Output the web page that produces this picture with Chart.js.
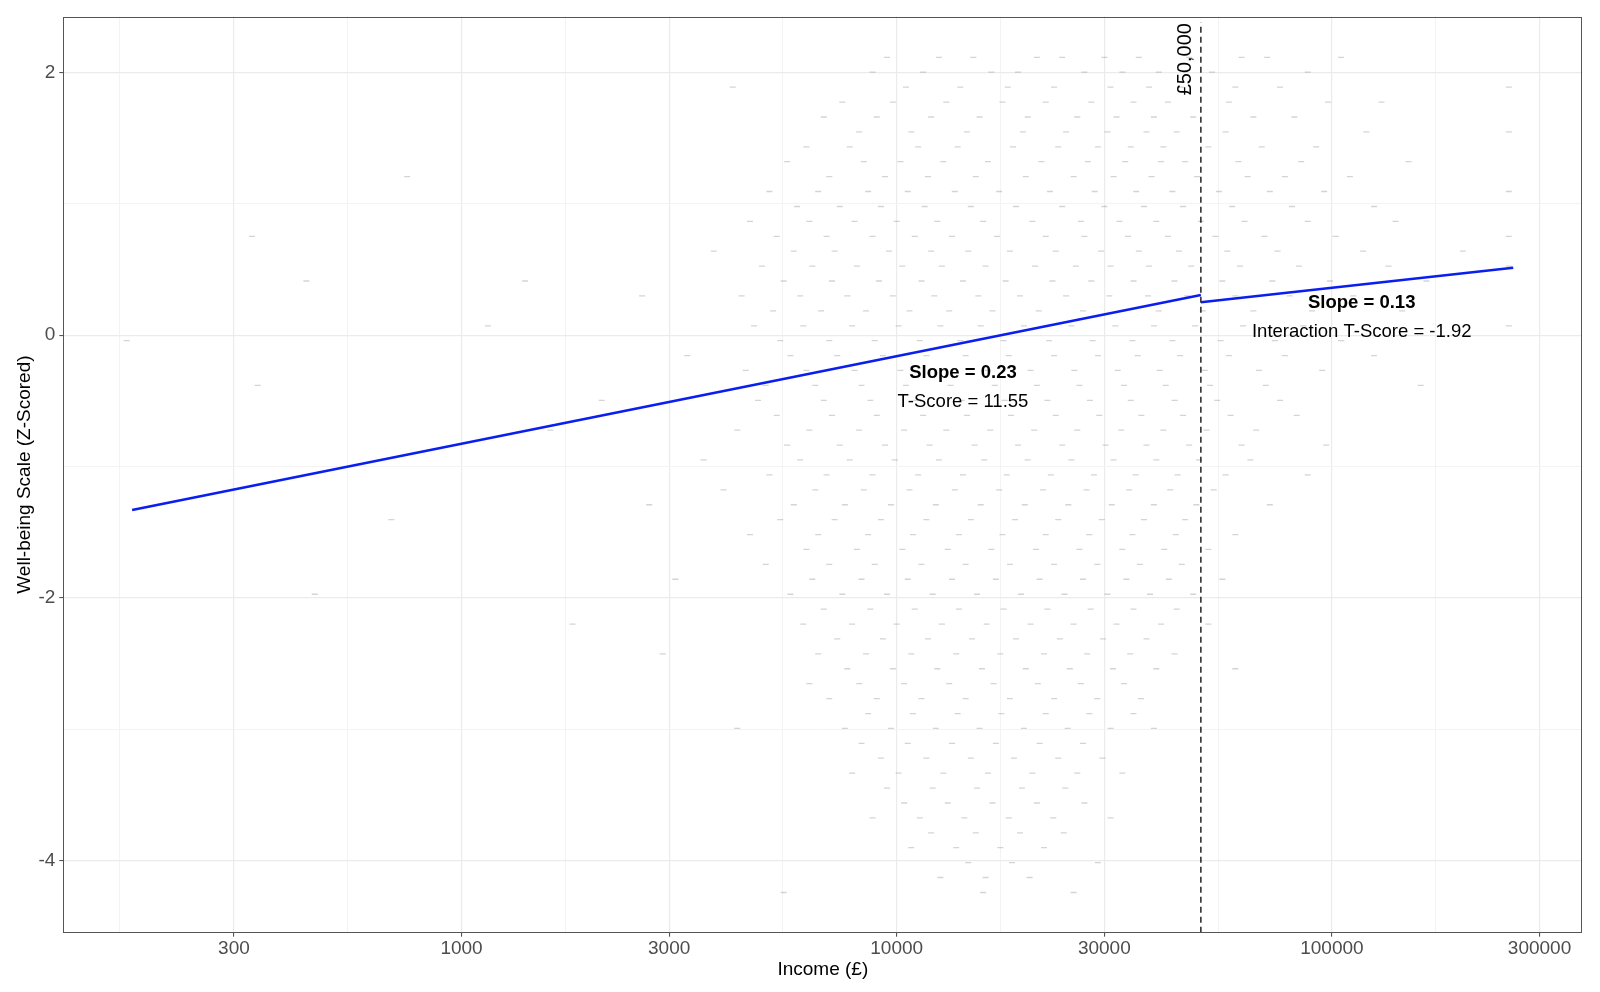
<!DOCTYPE html>
<html><head><meta charset="utf-8">
<script src="https://cdn.jsdelivr.net/npm/chart.js@4/dist/chart.umd.min.js"></script>
<style>html,body{margin:0;padding:0;background:#fff;}#wrap{width:1600px;height:992px;}</style>
</head><body><div id="wrap"><canvas id="c" width="1600" height="992"></canvas></div>
<script>
// ---------- data ----------
const xMajorTicks = [300, 1000, 3000, 10000, 30000, 100000, 300000];
const xMinorTicks = [164, 548, 1732, 5477, 17321, 54772, 173205];
const yMajorTicks = [-4, -2, 0, 2];
const yMinorTicks = [-3, -1, 1];
const xRange = [121.6, 376200];
const yRange = [-4.548, 2.425];
const threshold = 50000;
const thresholdTop = 2.38;
const lowIncomeFit = [[175, -1.331], [50000, 0.305]];
const highIncomeFit = [[50000, 0.250], [261000, 0.513]];
const xTitle = 'Income (£)';
const yTitle = 'Well-being Scale (Z-Scored)';
const thresholdLabel = '£50,000';
const annotations = [
  {x: 14200, y: -0.288, text: 'Slope = 0.23', bold: true},
  {x: 14200, y: -0.507, text: 'T-Score = 11.55', bold: false},
  {x: 117100, y: 0.242, text: 'Slope = 0.13', bold: true},
  {x: 117100, y: 0.026, text: 'Interaction T-Score = -1.92', bold: false}
];
// well-being levels (z) and the incomes of the faint observations read on each level
const cloudLevels = [2.114,2.001,1.887,1.774,1.660,1.547,1.433,1.320,1.206,1.093,0.979,0.866,0.752,0.639,0.525,0.412,0.298,0.185,0.071,-0.042,-0.156,-0.269,-0.383,-0.496,-0.610,-0.723,-0.837,-0.950,-1.064,-1.177,-1.291,-1.404,-1.518,-1.631,-1.745,-1.858,-1.972,-2.085,-2.199,-2.312,-2.426,-2.539,-2.653,-2.766,-2.880,-2.993,-3.107,-3.220,-3.334,-3.447,-3.561,-3.674,-3.788,-3.901,-4.015,-4.128,-4.242];
const cloudIncomes = [
  [9500,12500,15000,21000,24000,30000,36000,47000,62000,71000,105000],
  [8800,11500,16500,19000,27000,33000,40000,53000,88000],
  [4200,10500,14000,18000,23000,31000,38000,45000,60000,76000,255000],
  [7500,9800,13000,17500,22000,28000,35000,42000,58000,98000,130000],
  [6800,9000,12000,15500,20000,26000,32000,39000,48000,66000,82000],
  [8200,10800,14500,19500,24500,30500,37500,44000,57000,120000,255000],
  [6200,7800,11200,13800,18500,23500,29000,34500,41000,52000,69000,92000],
  [5600,8400,10200,12800,16200,21500,27500,33500,40500,46000,61000,85000,150000],
  [750,7000,9400,11800,15200,19800,25500,31500,38500,49000,64000,78000,110000],
  [5100,6600,8600,10600,13600,17200,22500,28500,35500,43000,55000,72000,96000,255000],
  [5900,7400,9200,11600,14800,18800,24000,30000,37000,45500,59000,81000,125000],
  [4600,6300,8000,10000,12400,15800,20500,26500,32500,39500,50000,63000,88000,140000],
  [330,5300,6900,8800,11000,13400,17000,22000,27000,34000,42000,54000,70000,102000,255000],
  [3800,5800,7200,9600,12000,14600,18200,23200,29500,36000,44500,57500,75000,118000,200000],
  [4900,6400,8100,10300,12700,16000,20800,25800,31000,38000,47500,61500,84000,135000,255000],
  [440,1400,5500,7100,9100,11400,14200,17800,22800,28000,35000,43500,56000,73000,99000,165000],
  [2600,4400,6000,7700,9800,12200,15400,19200,24500,30800,37800,46500,60000,80000,112000],
  [5200,6700,8500,10700,13200,16600,21200,26800,33000,40000,50500,66000,90000,145000],
  [1150,4700,6100,7900,10100,12600,15600,19600,25200,31800,39000,48500,62500,86000,255000],
  [170,5400,7000,8900,11300,14000,17600,22400,28200,34800,43000,55500,74000,105000],
  [3300,5700,7300,9300,11700,14400,18100,23000,29000,35800,44800,58000,78000,125000],
  [4500,6200,8000,10200,12900,16200,20300,25600,32200,40200,51000,68000,95000],
  [340,5000,6500,8300,10500,13300,16800,21000,26300,33300,41500,52500,70500,160000],
  [2100,4800,6800,8700,11100,14100,17700,22200,27800,34500,43500,54500,76000],
  [5300,7100,9000,11500,14500,18300,23200,29200,36500,45500,58500,83000],
  [1600,4300,6300,8200,10400,13000,16400,20700,26000,32800,41000,51500,67000],
  [5600,7400,9400,11900,15100,19000,24000,30200,37500,47000,62000,97000],
  [3600,6000,7800,9900,12500,15900,20000,25200,31500,39500,49500,65000],
  [5100,6900,8800,11200,14200,17900,22600,28400,35400,44200,57000,88000],
  [4000,6500,8400,10700,13600,17200,21700,27300,34200,42500,53500],
  [2700,5800,7600,9700,12300,15600,19700,24800,31200,39000,48800,72000],
  [690,5400,7200,9200,11700,14800,18700,23500,29600,37000,46000],
  [4600,6600,8600,10900,13900,17500,22000,27700,34800,43800,60000],
  [6200,8100,10300,13100,16500,20900,26300,33000,41200,52000],
  [5000,7000,8900,11400,14400,18200,23000,28900,36200,45200],
  [3100,6400,8300,10600,13400,16900,21300,26800,33700,42200,56000],
  [460,5700,7500,9500,12100,15300,19300,24300,30500,38200,48000],
  [6800,8700,11000,13900,17600,22200,27900,35000,44000],
  [1800,6100,7900,10000,12700,16100,20300,25500,32000,40500,52000],
  [7300,9300,11800,14900,18800,23700,29800,37500],
  [2900,6600,8500,10800,13700,17300,21800,27400,34400,43500],
  [7700,9800,12400,15700,19800,25000,31400,39500,60000],
  [6300,8200,10400,13200,16700,21100,26500,33300],
  [7000,9000,11400,14400,18200,23000,28900,36400],
  [8600,10900,13800,17400,22000,27700,35000],
  [4300,7600,9700,12300,15500,19600,24700,31000,39000],
  [8300,10600,13400,16900,21300,26800],
  [9200,11700,14800,18600,23500,29700],
  [7900,10100,12800,16200,20500,26000,33000],
  [9500,12100,15300,19400,24400],
  [10400,13100,16600,21000,27000],
  [8800,11300,14300,18100,22900,31000],
  [12000,15200,19200,24200],
  [10800,13700,17300,21800],
  [14600,18400,29000],
  [12600,16000,20200],
  [5500,15800,25500]
];

// ---------- chart ----------
const FONT = '"Liberation Sans", Arial, Helvetica, sans-serif';
const cloudData = [];
cloudLevels.forEach((z, i) => cloudIncomes[i].forEach(inc => cloudData.push({x: inc, y: z})));
const toXY = arr => arr.map(p => ({x: p[0], y: p[1]}));

const isMajorX = v => xMajorTicks.includes(v);
const isMajorY = v => yMajorTicks.includes(v);

const overlay = {
  id: 'overlay',
  afterDatasetsDraw(chart) {
    const {ctx, chartArea: a, scales: {x, y}} = chart;
    ctx.save();
    ctx.strokeStyle = '#555555';
    ctx.lineWidth = 1;
    ctx.strokeRect(Math.round(a.left) + 0.5, Math.round(a.top) + 0.5, Math.round(a.right - a.left) - 1, Math.round(a.bottom - a.top) - 1);
    ctx.fillStyle = '#000';
    ctx.textAlign = 'center';
    ctx.textBaseline = 'middle';
    annotations.forEach(an => {
      ctx.font = (an.bold ? 'bold ' : '') + '18.5px ' + FONT;
      ctx.fillText(an.text, x.getPixelForValue(an.x), y.getPixelForValue(an.y));
    });
    ctx.save();
    ctx.translate(x.getPixelForValue(threshold) - 10, y.getPixelForValue(2.10));
    ctx.rotate(-Math.PI / 2);
    ctx.font = '20px ' + FONT;
    ctx.textAlign = 'center';
    ctx.textBaseline = 'alphabetic';
    ctx.fillText(thresholdLabel, 0, 0);
    ctx.restore();
    ctx.font = '19px ' + FONT;
    ctx.textBaseline = 'middle';
    ctx.fillText(xTitle, (a.left + a.right) / 2, 970);
    ctx.save();
    ctx.translate(24.5, (a.top + a.bottom) / 2);
    ctx.rotate(-Math.PI / 2);
    ctx.fillText(yTitle, 0, 0);
    ctx.restore();
    ctx.restore();
  }
};

new Chart(document.getElementById('c'), {
  type: 'scatter',
  data: {
    datasets: [
      {type: 'line', data: toXY(lowIncomeFit), borderColor: '#0a1ef0', borderWidth: 2.6, pointRadius: 0, fill: false, order: 1},
      {type: 'line', data: toXY(highIncomeFit), borderColor: '#0a1ef0', borderWidth: 2.6, pointRadius: 0, fill: false, order: 1},
      {type: 'line', data: [{x: threshold, y: yRange[0]}, {x: threshold, y: thresholdTop}], borderColor: '#000', borderWidth: 1.3, borderDash: [6, 4], pointRadius: 0, fill: false, order: 2},
      {data: cloudData, pointStyle: 'line', pointRadius: 3, pointHoverRadius: 0, borderColor: 'rgba(120,120,120,0.32)', backgroundColor: 'rgba(120,120,120,0.32)', borderWidth: 1.3, order: 3}
    ]
  },
  options: {
    responsive: false,
    animation: false,
    devicePixelRatio: 1,
    events: [],
    layout: {padding: {top: 16.5, right: 17.7, left: 0, bottom: 0}},
    plugins: {legend: {display: false}, tooltip: {enabled: false}, title: {display: false}},
    scales: {
      x: {
        type: 'logarithmic',
        min: xRange[0], max: xRange[1],
        afterBuildTicks: s => { s.ticks = [...xMajorTicks, ...xMinorTicks].sort((p, q) => p - q).map(v => ({value: v})); },
        afterFit: s => { s.height = 59.3; },
        border: {display: false},
        grid: {
          color: c => (c.tick && isMajorX(c.tick.value)) ? '#ebebeb' : '#f3f3f3',
          lineWidth: c => (c.tick && isMajorX(c.tick.value)) ? 1.2 : 1,
          tickColor: c => (c.tick && isMajorX(c.tick.value)) ? '#444' : 'rgba(0,0,0,0)',
          tickLength: 4, tickWidth: 1
        },
        ticks: {
          autoSkip: false, maxRotation: 0, minRotation: 0, padding: 1,
          color: '#4d4d4d', font: {family: FONT, size: 19},
          callback: v => isMajorX(v) ? String(v) : ''
        }
      },
      y: {
        type: 'linear',
        min: yRange[0], max: yRange[1],
        afterBuildTicks: s => { s.ticks = [...yMajorTicks, ...yMinorTicks].sort((p, q) => p - q).map(v => ({value: v})); },
        afterFit: s => { s.width = 63.3; },
        border: {display: false},
        grid: {
          color: c => (c.tick && isMajorY(c.tick.value)) ? '#ebebeb' : '#f3f3f3',
          lineWidth: c => (c.tick && isMajorY(c.tick.value)) ? 1.2 : 1,
          tickColor: c => (c.tick && isMajorY(c.tick.value)) ? '#444' : 'rgba(0,0,0,0)',
          tickLength: 4, tickWidth: 1
        },
        ticks: {
          autoSkip: false, padding: 4,
          color: '#4d4d4d', font: {family: FONT, size: 19},
          callback: v => isMajorY(v) ? String(v) : ''
        }
      }
    }
  },
  plugins: [overlay]
});
</script></body></html>
